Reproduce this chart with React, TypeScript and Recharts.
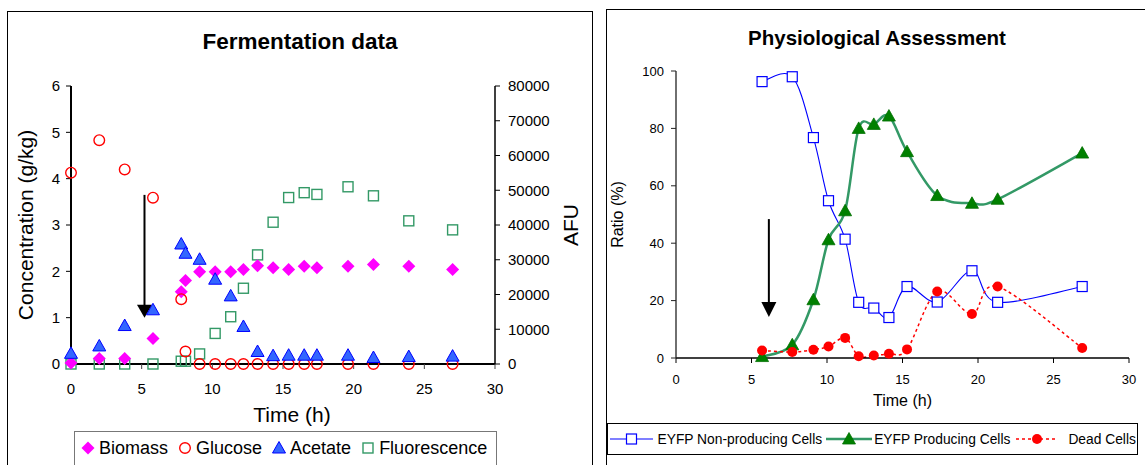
import React from 'react';
import { ComposedChart, Scatter, Line, XAxis, YAxis, ReferenceLine, Legend } from 'recharts';

const FONT = '"Liberation Sans", Arial, Helvetica, sans-serif';

// ---------- Fermentation data (left panel) ----------
const fermTimes = [0, 2.0, 3.8, 5.8, 7.8, 8.1, 9.1, 10.2, 11.3, 12.2, 13.2, 14.3, 15.4, 16.5, 17.4, 19.6, 21.4, 23.9, 27.0];
const biomass = [0.02, 0.12, 0.12, 0.55, 1.56, 1.8, 1.99, 1.99, 1.99, 2.04, 2.12, 2.08, 2.04, 2.11, 2.08, 2.11, 2.15, 2.11, 2.04];
const glucose = [4.13, 4.83, 4.2, 3.59, 1.4, 0.27, 0, 0, 0, 0, 0, 0, 0, 0, 0, 0, 0, 0, 0];
const acetate = [0.23, 0.39, 0.83, 1.17, 2.59, 2.39, 2.26, 1.83, 1.47, 0.81, 0.27, 0.18, 0.19, 0.19, 0.19, 0.19, 0.14, 0.16, 0.17];
const fluorescence = [0, 0, 0, 0, 800, 800, 2900, 8800, 13600, 21800, 31400, 40800, 47900, 49300, 48800, 51000, 48400, 41200, 38600];
const concTicks = [0, 1, 2, 3, 4, 5, 6];
const afuTicks = [0, 10000, 20000, 30000, 40000, 50000, 60000, 70000, 80000];
const timeTicks = [0, 5, 10, 15, 20, 25, 30];
const fermArrow = { t: 5.2, from: 3.65, to: 1.0 };

// ---------- Physiological Assessment (right panel) ----------
const physTimes = [5.7, 7.7, 9.1, 10.1, 11.2, 12.1, 13.1, 14.1, 15.3, 17.3, 19.6, 21.3, 26.9];
const nonProducing = [96.3, 98.0, 76.8, 54.8, 41.4, 19.4, 17.4, 14.1, 24.9, 19.5, 30.4, 19.4, 24.9];
const producing = [0.5, 4.6, 20.3, 41.2, 51.3, 80.0, 81.4, 84.3, 71.9, 56.6, 53.9, 55.3, 71.4];
const deadCells = [2.6, 2.1, 2.9, 4.0, 7.0, 0.6, 0.9, 1.5, 3.0, 23.2, 15.3, 24.9, 3.5];
const ratioTicks = [0, 20, 40, 60, 80, 100];
const physArrow = { t: 6.15, from: 48.4, to: 14.3 };

const toPts = (ys: number[]) => fermTimes.map((x, i) => ({ x, y: ys[i] }));
const biomassPts = toPts(biomass);
const glucosePts = toPts(glucose);
const acetatePts = toPts(acetate);
const fluorPts = toPts(fluorescence);
const physRows = physTimes.map((t, i) => ({ t, non: nonProducing[i], prod: producing[i], dead: deadCells[i] }));

// Excel-like smoothed line (Catmull-Rom as cubic Bezier)
function excelCurve(context: any) {
  let pts: number[][] = [];
  return {
    areaStart() {},
    areaEnd() {},
    lineStart() {
      pts = [];
    },
    point(x: number, y: number) {
      pts.push([+x, +y]);
    },
    lineEnd() {
      const n = pts.length;
      if (!n) return;
      context.moveTo(pts[0][0], pts[0][1]);
      for (let i = 0; i < n - 1; i++) {
        const p0 = i > 0 ? pts[i - 1] : pts[i];
        const p1 = pts[i];
        const p2 = pts[i + 1];
        const p3 = i + 2 < n ? pts[i + 2] : p2;
        context.bezierCurveTo(
          p1[0] + (p2[0] - p0[0]) / 6,
          p1[1] + (p2[1] - p0[1]) / 6,
          p2[0] - (p3[0] - p1[0]) / 6,
          p2[1] - (p3[1] - p1[1]) / 6,
          p2[0],
          p2[1]
        );
      }
    },
  };
}

// ---------- marker shapes ----------
const Diamond = (p: any) => {
  const { cx, cy } = p;
  const r = 6.5;
  return <polygon points={`${cx},${cy - r} ${cx + r},${cy} ${cx},${cy + r} ${cx - r},${cy}`} fill="#ff00ff" />;
};
const OpenCircle = (p: any) => <circle cx={p.cx} cy={p.cy} r={5.3} fill="none" stroke="#ff0000" strokeWidth={1.4} />;
const BlueTri = (p: any) => {
  const { cx, cy } = p;
  return (
    <polygon
      points={`${cx},${cy - 6.5} ${cx + 6.5},${cy + 5} ${cx - 6.5},${cy + 5}`}
      fill="#3366ff"
      stroke="#0000ff"
      strokeWidth={1}
    />
  );
};
const GreenSquare = (p: any) => (
  <rect x={p.cx - 5} y={p.cy - 5} width={10} height={10} fill="none" stroke="#339966" strokeWidth={1.4} />
);

const BlueSquareDot = (p: any) =>
  p.cx == null ? <g /> : (
    <rect key={p.key} x={p.cx - 5} y={p.cy - 5} width={10} height={10} fill="#fff" stroke="#0000ff" strokeWidth={1.2} />
  );
const GreenTriDot = (p: any) =>
  p.cx == null ? <g /> : (
    <polygon
      key={p.key}
      points={`${p.cx},${p.cy - 6.5} ${p.cx + 6.5},${p.cy + 5} ${p.cx - 6.5},${p.cy + 5}`}
      fill="#008000"
      stroke="#007000"
      strokeWidth={0.8}
    />
  );
const RedDot = (p: any) => (p.cx == null ? <g /> : <circle key={p.key} cx={p.cx} cy={p.cy} r={5} fill="#ff0000" />);

// ---------- arrows ----------
const makeArrow = (headH: number, halfW: number, sw: number) => (props: any) => {
  const { x1, y1, x2, y2 } = props;
  return (
    <g>
      <line x1={x1} y1={y1} x2={x2} y2={y2 - headH + 1} stroke="#000" strokeWidth={sw} />
      <polygon points={`${x2},${y2} ${x2 - halfW},${y2 - headH} ${x2 + halfW},${y2 - headH}`} fill="#000" />
    </g>
  );
};

// ---------- axis titles ----------
const vTitle = (text: string, baseX: number, size: number) => (props: any) => {
  const vb = props.viewBox || {};
  const cy = (vb.y ?? 0) + (vb.height ?? 0) / 2;
  return (
    <text x={baseX} y={cy} transform={`rotate(-90 ${baseX} ${cy})`} textAnchor="middle" fontSize={size} fill="#000">
      {text}
    </text>
  );
};
const hTitle = (text: string, dx: number, baseY: number, size: number) => (props: any) => {
  const vb = props.viewBox || {};
  const cx = (vb.x ?? 0) + (vb.width ?? 0) / 2 + dx;
  return (
    <text x={cx} y={baseY} textAnchor="middle" fontSize={size} fill="#000">
      {text}
    </text>
  );
};

// ---------- legends ----------
const fermMarkers: Record<string, any> = {
  Biomass: Diamond,
  Glucose: OpenCircle,
  Acetate: BlueTri,
  Fluorescence: GreenSquare,
};
const fermOrder = ['Biomass', 'Glucose', 'Acetate', 'Fluorescence'];

const FermLegend = (props: any) => {
  const payload = [...(props.payload || [])].sort(
    (a: any, b: any) => fermOrder.indexOf(a.value) - fermOrder.indexOf(b.value)
  );
  return (
    <div
      style={{
        width: '100%',
        height: '100%',
        boxSizing: 'border-box',
        border: '1px solid #777',
        display: 'flex',
        alignItems: 'flex-start',
        paddingTop: 5,
        paddingLeft: 6,
        fontSize: 18,
        lineHeight: '22px',
        color: '#000',
        fontFamily: FONT,
      }}
    >
      {payload.map((e: any) => {
        const M = fermMarkers[e.value];
        return (
          <span key={e.value} style={{ display: 'flex', alignItems: 'center', marginRight: 10, whiteSpace: 'nowrap' }}>
            <svg width={14} height={16} style={{ display: 'block' }}>
              {M ? <M cx={7} cy={8} /> : null}
            </svg>
            <span style={{ marginLeft: 4 }}>{e.value}</span>
          </span>
        );
      })}
    </div>
  );
};

const physLegendStyle: Record<string, any> = {
  'EYFP Non-producing Cells': { stroke: '#0000ff', sw: 1.1, dash: undefined, Dot: BlueSquareDot, w: 43, ml: 2, tl: 5 },
  'EYFP Producing Cells': { stroke: '#339966', sw: 2.5, dash: undefined, Dot: GreenTriDot, w: 46, ml: 4, tl: 2 },
  'Dead Cells': { stroke: '#ff0000', sw: 1.5, dash: '3 3', Dot: RedDot, w: 42, ml: 6, tl: 10 },
};
const physOrder = ['EYFP Non-producing Cells', 'EYFP Producing Cells', 'Dead Cells'];

const PhysLegend = (props: any) => {
  const payload = [...(props.payload || [])].sort(
    (a: any, b: any) => physOrder.indexOf(a.value) - physOrder.indexOf(b.value)
  );
  return (
    <div
      style={{
        width: '100%',
        height: '100%',
        boxSizing: 'border-box',
        border: '1px solid #000',
        display: 'flex',
        alignItems: 'center',
        fontSize: 13.8,
        color: '#000',
        fontFamily: FONT,
      }}
    >
      {payload.map((e: any) => {
        const s = physLegendStyle[e.value];
        if (!s) return null;
        const D = s.Dot;
        return (
          <span key={e.value} style={{ display: 'flex', alignItems: 'center', marginLeft: s.ml, whiteSpace: 'nowrap' }}>
            <svg width={s.w} height={16} style={{ display: 'block' }}>
              <line x1={0} y1={8} x2={s.w} y2={8} stroke={s.stroke} strokeWidth={s.sw} strokeDasharray={s.dash} />
              <D cx={s.w / 2} cy={8} />
            </svg>
            <span style={{ marginLeft: s.tl }}>{e.value}</span>
          </span>
        );
      })}
    </div>
  );
};

// ---------- charts ----------
const FermentationChart = () => (
  <ComposedChart width={600} height={465} margin={{ top: 86, right: 0, bottom: 41, left: 0 }}>
    <XAxis
      xAxisId={0}
      type="number"
      dataKey="x"
      domain={[0, 30]}
      ticks={timeTicks}
      interval={0}
      height={60}
      axisLine={{ stroke: '#000', strokeWidth: 2 }}
      tickLine={{ stroke: '#444' }}
      tickSize={5}
      tickMargin={14}
      tick={{ fontSize: 15, fill: '#000' }}
      label={hTitle('Time (h)', 9, 421.5, 21)}
    />
    <XAxis
      xAxisId="top"
      orientation="top"
      type="number"
      domain={[0, 30]}
      height={0}
      tick={false}
      tickLine={false}
      axisLine={{ stroke: '#333', strokeWidth: 1 }}
    />
    <YAxis
      yAxisId="left"
      type="number"
      dataKey="y"
      domain={[0, 6]}
      ticks={concTicks}
      interval={0}
      width={71}
      axisLine={{ stroke: '#000', strokeWidth: 2 }}
      tickLine={{ stroke: '#000' }}
      tickSize={5}
      tickMargin={6}
      tick={{ fontSize: 15, fill: '#000' }}
      label={vTitle('Concentration (g/kg)', 33, 21)}
    />
    <YAxis
      yAxisId="right"
      orientation="right"
      type="number"
      dataKey="y"
      domain={[0, 80000]}
      ticks={afuTicks}
      interval={0}
      width={105}
      axisLine={{ stroke: '#000', strokeWidth: 1.5 }}
      tickLine={{ stroke: '#000' }}
      tickSize={5}
      tickMargin={8}
      tick={{ fontSize: 15, fill: '#000' }}
      label={vTitle('AFU', 578, 21)}
    />
    <Scatter name="Fluorescence" data={fluorPts} yAxisId="right" shape={GreenSquare} isAnimationActive={false} />
    <Scatter name="Biomass" data={biomassPts} yAxisId="left" shape={Diamond} isAnimationActive={false} />
    <Scatter name="Glucose" data={glucosePts} yAxisId="left" shape={OpenCircle} isAnimationActive={false} />
    <Scatter name="Acetate" data={acetatePts} yAxisId="left" shape={BlueTri} isAnimationActive={false} />
    <ReferenceLine
      yAxisId="left"
      segment={[
        { x: fermArrow.t, y: fermArrow.from },
        { x: fermArrow.t, y: fermArrow.to },
      ]}
      shape={makeArrow(13, 7.5, 2)}
    />
    <Legend
      layout="horizontal"
      verticalAlign="middle"
      align="center"
      content={FermLegend}
      wrapperStyle={{ left: 74, top: 431, width: 423, height: 40 }}
    />
  </ComposedChart>
);

const PhysChart = () => (
  <ComposedChart width={545} height={465} data={physRows} margin={{ top: 71, right: 16, bottom: 52, left: 0 }}>
    <XAxis
      xAxisId={0}
      type="number"
      dataKey="t"
      domain={[0, 30]}
      ticks={timeTicks}
      interval={0}
      height={55}
      axisLine={{ stroke: '#000', strokeWidth: 1.3 }}
      tickLine={{ stroke: '#000' }}
      tickSize={5}
      tickMargin={12}
      tick={{ fontSize: 13, fill: '#000' }}
      label={hTitle('Time (h)', 0, 405.5, 16)}
    />
    <XAxis
      xAxisId="top"
      orientation="top"
      type="number"
      domain={[0, 30]}
      height={0}
      tick={false}
      tickLine={false}
      axisLine={{ stroke: '#999', strokeWidth: 1.2 }}
    />
    <YAxis
      yAxisId={0}
      type="number"
      domain={[0, 100]}
      ticks={ratioTicks}
      interval={0}
      width={76}
      axisLine={{ stroke: '#222', strokeWidth: 1.3 }}
      tickLine={{ stroke: '#222' }}
      tickSize={5}
      tickMargin={7}
      tick={{ fontSize: 13, fill: '#000' }}
      label={vTitle('Ratio (%)', 23, 16)}
    />
    <YAxis
      yAxisId="rb"
      orientation="right"
      type="number"
      domain={[0, 100]}
      width={0}
      tick={false}
      tickLine={false}
      axisLine={{ stroke: '#999', strokeWidth: 1.2 }}
    />
    <Line
      name="EYFP Non-producing Cells"
      dataKey="non"
      type={excelCurve as any}
      stroke="#0000ff"
      strokeWidth={1.1}
      dot={BlueSquareDot}
      activeDot={false}
      isAnimationActive={false}
    />
    <Line
      name="EYFP Producing Cells"
      dataKey="prod"
      type={excelCurve as any}
      stroke="#339966"
      strokeWidth={2.5}
      dot={GreenTriDot}
      activeDot={false}
      isAnimationActive={false}
    />
    <Line
      name="Dead Cells"
      dataKey="dead"
      type={excelCurve as any}
      stroke="#ff0000"
      strokeWidth={1.5}
      strokeDasharray="3 3"
      dot={RedDot}
      activeDot={false}
      isAnimationActive={false}
    />
    <ReferenceLine
      segment={[
        { x: physArrow.t, y: physArrow.from },
        { x: physArrow.t, y: physArrow.to },
      ]}
      shape={makeArrow(15, 7.5, 2)}
    />
    <Legend
      layout="horizontal"
      verticalAlign="middle"
      align="center"
      content={PhysLegend}
      wrapperStyle={{ left: 6.5, top: 423, width: 531, height: 32 }}
    />
  </ComposedChart>
);

export default function App() {
  return (
    <div
      style={{
        position: 'absolute',
        left: 0,
        top: 0,
        width: 1145,
        height: 465,
        overflow: 'hidden',
        background: '#fff',
        fontFamily: FONT,
      }}
    >
      <div
        style={{
          position: 'absolute',
          left: 7,
          top: 11,
          width: 586,
          height: 480,
          border: '1.5px solid #000',
          boxSizing: 'border-box',
        }}
      />
      <div
        style={{
          position: 'absolute',
          left: 606,
          top: 9,
          width: 560,
          height: 480,
          border: '1.5px solid #000',
          boxSizing: 'border-box',
        }}
      />
      <div
        style={{
          position: 'absolute',
          left: 0,
          top: 29,
          width: 600,
          textAlign: 'center',
          fontWeight: 'bold',
          fontSize: 22.5,
          lineHeight: '26px',
          color: '#000',
        }}
      >
        Fermentation data
      </div>
      <div
        style={{
          position: 'absolute',
          left: 700,
          top: 26,
          width: 354,
          textAlign: 'center',
          fontWeight: 'bold',
          fontSize: 20.5,
          lineHeight: '24px',
          color: '#000',
        }}
      >
        Physiological Assessment
      </div>
      <div style={{ position: 'absolute', left: 0, top: 0 }}>
        <FermentationChart />
      </div>
      <div style={{ position: 'absolute', left: 600, top: 0 }}>
        <PhysChart />
      </div>
    </div>
  );
}
